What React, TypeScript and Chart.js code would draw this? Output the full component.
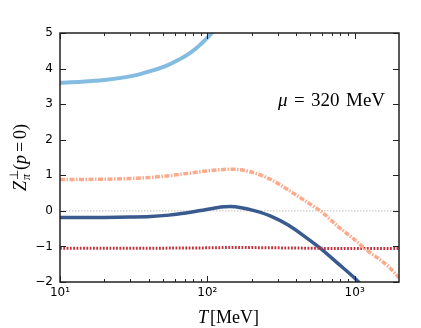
import React, { useEffect, useRef } from 'react';
import { Chart, registerables } from 'chart.js';
Chart.register(...registerables);

// ---- data (T in MeV, Z values) ----
const T_LIGHT = [10, 14, 20, 28, 34, 42, 52, 62, 74, 84, 92, 100, 108, 116];
const Z_LIGHT = [3.6, 3.63, 3.68, 3.76, 3.83, 3.94, 4.07, 4.22, 4.4, 4.57, 4.72, 4.86, 5.02, 5.2];

const T_SALMON = [10, 20, 30, 41, 55, 69, 90, 116, 146, 195, 267, 354, 449, 597, 776, 1006, 1172, 1700, 2000];
const Z_SALMON = [0.88, 0.89, 0.91, 0.94, 0.99, 1.04, 1.1, 1.15, 1.17, 1.1, 0.89, 0.59, 0.31, -0.03, -0.45, -0.82, -1.06, -1.57, -1.88];

const T_DARK = [10, 20, 30, 41, 55, 69, 90, 116, 143, 170, 211, 267, 354, 461, 597, 776, 1006, 1100];
const Z_DARK = [-0.19, -0.185, -0.175, -0.16, -0.12, -0.07, 0.01, 0.09, 0.12, 0.09, 0.0, -0.14, -0.4, -0.73, -1.08, -1.49, -1.9, -2.06];

const T_RED = [10, 30, 100, 150, 300, 1000, 2000];
const Z_RED = [-1.05, -1.05, -1.04, -1.03, -1.04, -1.06, -1.06];

const T_ZERO = [10, 2000];
const Z_ZERO = [0, 0];

const X_MAJOR = [10, 100, 1000];
const X_MINOR = [20, 30, 40, 50, 60, 70, 80, 90, 200, 300, 400, 500, 600, 700, 800, 900];
const Y_TICKS = [-2, -1, 0, 1, 2, 3, 4, 5];
const SUP: Record<string, string> = { '1': '\u00b9', '2': '\u00b2', '3': '\u00b3' };

const pts = (xs: number[], ys: number[]) => xs.map((x, i) => ({ x, y: ys[i] }));

const SERIF = '"Liberation Serif", "Times New Roman", serif';

type Run = { t: string; f: string; dy?: number; dx?: number; noAdvance?: boolean };

function runsWidth(ctx: CanvasRenderingContext2D, runs: Run[]) {
  let w = 0;
  for (const r of runs) {
    ctx.font = r.f;
    const m = ctx.measureText(r.t).width;
    w += r.dx || 0;
    if (!r.noAdvance) w += m;
  }
  return w;
}

function drawRuns(ctx: CanvasRenderingContext2D, runs: Run[], x: number, y: number) {
  let cx = x;
  for (const r of runs) {
    ctx.font = r.f;
    cx += r.dx || 0;
    ctx.fillText(r.t, cx, y + (r.dy || 0));
    if (!r.noAdvance) cx += ctx.measureText(r.t).width;
  }
}

const framePlugin = {
  id: 'framePlugin',
  afterDatasetsDraw(chart: any) {
    const { ctx, chartArea: a, scales } = chart;
    const xs = scales.x;
    const ys = scales.y;
    ctx.save();
    ctx.strokeStyle = '#222222';
    ctx.lineWidth = 1;
    const line = (x1: number, y1: number, x2: number, y2: number) => {
      ctx.beginPath();
      ctx.moveTo(x1, y1);
      ctx.lineTo(x2, y2);
      ctx.stroke();
    };
    for (const v of X_MAJOR) {
      const p = Math.round(xs.getPixelForValue(v)) + 0.5;
      line(p, a.bottom, p, a.bottom - 6);
      line(p, a.top, p, a.top + 6);
    }
    for (const v of X_MINOR) {
      const p = Math.round(xs.getPixelForValue(v)) + 0.5;
      line(p, a.bottom, p, a.bottom - 3);
      line(p, a.top, p, a.top + 3);
    }
    for (const v of Y_TICKS) {
      const p = Math.round(ys.getPixelForValue(v)) + 0.5;
      line(a.left, p, a.left + 6, p);
      line(a.right, p, a.right - 6, p);
    }
    ctx.lineWidth = 1.5;
    ctx.strokeRect(a.left, a.top, a.right - a.left, a.bottom - a.top);

    ctx.fillStyle = '#000000';
    ctx.textBaseline = 'alphabetic';
    ctx.textAlign = 'left';

    // x title
    ctx.font = `italic 18px ${SERIF}`;
    ctx.fillText('T', 198, 323);
    ctx.font = `18px ${SERIF}`;
    ctx.fillText('[MeV]', 210, 323);

    // annotation
    ctx.font = `italic 19px ${SERIF}`;
    ctx.fillText('\u03bc', 278, 106);
    ctx.font = `19px ${SERIF}`;
    ctx.fillText('=', 294, 106);
    ctx.fillText('320', 311, 106);
    ctx.fillText('MeV', 346, 106);

    // y title (rotated)
    ctx.save();
    ctx.translate(26, (a.top + a.bottom) / 2);
    ctx.rotate(-Math.PI / 2);
    const yr: Run[] = [
      { t: 'Z', f: `italic 18px ${SERIF}` },
      { t: '\u22a5', f: `12px ${SERIF}`, dy: -8, dx: 1, noAdvance: true },
      { t: '\u03c0', f: `italic 12px ${SERIF}`, dy: 4, dx: 0 },
      { t: '(', f: `18px ${SERIF}`, dx: 4 },
      { t: 'p', f: `italic 18px ${SERIF}` },
      { t: '=', f: `18px ${SERIF}`, dx: 3 },
      { t: '0', f: `18px ${SERIF}`, dx: 3 },
      { t: ')', f: `18px ${SERIF}` },
    ];
    const yw = runsWidth(ctx, yr);
    drawRuns(ctx, yr, -yw / 2, 0);
    ctx.restore();

    ctx.restore();
  },
};

export default function App() {
  const ref = useRef<HTMLCanvasElement | null>(null);
  useEffect(() => {
    if (!ref.current) return;
    const common = { pointRadius: 0, fill: false, clip: 0, cubicInterpolationMode: 'monotone' as const };
    const chart = new Chart(ref.current, {
      type: 'line',
      data: {
        datasets: [
          { ...common, data: pts(T_ZERO, Z_ZERO), borderColor: '#bdbdbd', borderWidth: 1, borderDash: [1.5, 1.5], order: 10 },
          { ...common, data: pts(T_LIGHT, Z_LIGHT), borderColor: '#84bbe0', borderWidth: 4, order: 5 },
          { ...common, data: pts(T_DARK, Z_DARK), borderColor: '#385a8e', borderWidth: 3.5, order: 4 },
          { ...common, data: pts(T_RED, Z_RED), borderColor: '#c0323c', borderWidth: 3, borderDash: [1.8, 1.5], order: 3 },
          { ...common, data: pts(T_SALMON, Z_SALMON), borderColor: '#fbab8d', borderWidth: 3.5, borderDash: [5, 1.5, 1.5, 1.5], order: 2 },
        ],
      },
      options: {
        responsive: false,
        animation: false,
        events: [],
        layout: { padding: { top: 33, right: 22, left: 0, bottom: 0 } },
        plugins: { legend: { display: false }, tooltip: { enabled: false } },
        scales: {
          x: {
            type: 'logarithmic',
            min: 10,
            max: 2000,
            grid: { display: false, drawTicks: false },
            border: { display: false },
            afterBuildTicks: (s: any) => {
              s.ticks = X_MAJOR.map((v) => ({ value: v }));
            },
            afterFit: (s: any) => {
              s.height = 46;
            },
            ticks: {
              autoSkip: false,
              maxRotation: 0,
              padding: 4,
              color: '#000',
              font: { family: '"DejaVu Sans", sans-serif', size: 12 },
              callback: (v: any) => {
                const e = Math.round(Math.log10(Number(v)));
                return '10' + (SUP[String(e)] || '');
              },
            },
          },
          y: {
            type: 'linear',
            min: -2,
            max: 5,
            grid: { display: false, drawTicks: false },
            border: { display: false },
            afterBuildTicks: (s: any) => {
              s.ticks = Y_TICKS.map((v) => ({ value: v }));
            },
            afterFit: (s: any) => {
              s.width = 60;
            },
            ticks: {
              padding: 7,
              color: '#000',
              font: { family: '"DejaVu Sans", sans-serif', size: 12 },
              callback: (v: any) => (Number(v) < 0 ? '\u2212' + Math.abs(Number(v)) : String(v)),
            },
          },
        },
      },
      plugins: [framePlugin],
    } as any);
    return () => chart.destroy();
  }, []);
  return (
    <div style={{ position: 'absolute', left: 0, top: 0, width: 421, height: 328, background: '#fff' }}>
      <canvas ref={ref} width={421} height={328} />
    </div>
  );
}
